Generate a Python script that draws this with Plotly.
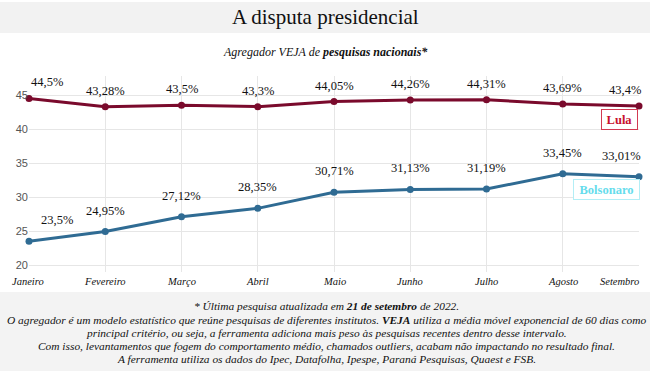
import plotly.graph_objects as go

months = ["Janeiro", "Fevereiro", "Março", "Abril", "Maio", "Junho", "Julho", "Agosto", "Setembro"]
lula = [44.5, 43.28, 43.5, 43.3, 44.05, 44.26, 44.31, 43.69, 43.4]
bolsonaro = [23.5, 24.95, 27.12, 28.35, 30.71, 31.13, 31.19, 33.45, 33.01]
y_ticks = [20, 25, 30, 35, 40, 45]

W, H = 650, 371
ML, MR, MT, MB = 29, 11, 76, 99
PW = W - ML - MR
PH = H - MT - MB

def px_x(px):
    return (px - ML) / PW

def px_y(py):
    return (H - MB - py) / PH

LULA_C = "#7a0a2c"
BOLS_C = "#2f6b93"
SERIF = "Liberation Serif"

fig = go.Figure()
fig.add_trace(go.Scatter(x=months, y=lula, mode="lines+markers",
                         line=dict(color=LULA_C, width=3), marker=dict(size=7, color=LULA_C),
                         cliponaxis=False, hoverinfo="skip"))
fig.add_trace(go.Scatter(x=months, y=bolsonaro, mode="lines+markers",
                         line=dict(color=BOLS_C, width=3), marker=dict(size=7, color=BOLS_C),
                         cliponaxis=False, hoverinfo="skip"))

def fmt(v):
    s = ("%.2f" % v).rstrip("0").rstrip(".")
    return s.replace(".", ",") + "%"

annotations = []
n = len(months)
for series, ys, first_shift in ((lula, 16, 0), (bolsonaro, 21, 10)):
    for i, v in enumerate(series):
        if i == 0:
            xa, xs = "left", first_shift
        elif i == n - 1:
            xa, xs = "right", 4
        else:
            xa, xs = "center", 0
        annotations.append(dict(x=months[i], y=v, xref="x", yref="y", text=fmt(v),
                                showarrow=False, xanchor=xa, yanchor="middle", xshift=xs, yshift=ys,
                                font=dict(family=SERIF, size=12.5, color="#111")))

# x tick labels (edge labels pulled inward as in the original)
for i, m in enumerate(months):
    if i == 0:
        xa, xs = "left", -19
    elif i == n - 1:
        xa, xs = "right", 2
    else:
        xa, xs = "center", 0
    annotations.append(dict(x=m, y=px_y(281), xref="x", yref="paper", text="<i>" + m + "</i>",
                            showarrow=False, xanchor=xa, yanchor="middle", xshift=xs,
                            font=dict(family=SERIF, size=10.5, color="#111")))

# title & subtitle
annotations.append(dict(x=px_x(325), y=px_y(17), xref="paper", yref="paper",
                        text="A disputa presidencial", showarrow=False,
                        xanchor="center", yanchor="middle",
                        font=dict(family=SERIF, size=21, color="#111")))
annotations.append(dict(x=px_x(325), y=px_y(52), xref="paper", yref="paper",
                        text="<i>Agregador VEJA de <b>pesquisas nacionais*</b></i>", showarrow=False,
                        xanchor="center", yanchor="middle",
                        font=dict(family=SERIF, size=12, color="#111")))

# legend boxes
annotations.append(dict(x=px_x(619), y=px_y(119), xref="paper", yref="paper",
                        text="<b>Lula</b>", showarrow=False, xanchor="center", yanchor="middle",
                        width=29, height=13, bordercolor="#d23a52", borderwidth=1, borderpad=3,
                        bgcolor="white", font=dict(family=SERIF, size=12.5, color="#c8102e")))
annotations.append(dict(x=px_x(606), y=px_y(189.5), xref="paper", yref="paper",
                        text="<b>Bolsonaro</b>", showarrow=False, xanchor="center", yanchor="middle",
                        width=59, height=13, bordercolor="#b3eef6", borderwidth=1, borderpad=3,
                        bgcolor="white", font=dict(family=SERIF, size=12.5, color="#66dcec")))

footer_lines = [
    "<i>* Última pesquisa atualizada em <b>21 de setembro</b> de 2022.</i>",
    "<i>O agregador é um modelo estatístico que reúne pesquisas de diferentes institutos. <b>VEJA</b> utiliza a média móvel exponencial de 60 dias como</i>",
    "<i>principal critério, ou seja, a ferramenta adiciona mais peso às pesquisas recentes dentro desse intervalo.</i>",
    "<i>Com isso, levantamentos que fogem do comportamento médio, chamados outliers, acabam não impactando no resultado final.</i>",
    "<i>A ferramenta utiliza os dados do Ipec, Datafolha, Ipespe, Paraná Pesquisas, Quaest e FSB.</i>",
]
footer_y = [306, 319.5, 333, 346, 359]
for line, yy in zip(footer_lines, footer_y):
    annotations.append(dict(x=px_x(326), y=px_y(yy), xref="paper", yref="paper",
                            text=line, showarrow=False, xanchor="center", yanchor="middle",
                            font=dict(family=SERIF, size=11.4, color="#111")))

shapes = [
    dict(type="rect", xref="paper", yref="paper", x0=px_x(0), x1=px_x(650), y0=px_y(33), y1=px_y(2),
         fillcolor="#f2f2f2", line=dict(width=0), layer="below"),
    dict(type="rect", xref="paper", yref="paper", x0=px_x(0), x1=px_x(650), y0=px_y(371), y1=px_y(292),
         fillcolor="#f3f3f3", line=dict(width=0), layer="below"),
]

fig.update_layout(
    width=W, height=H, margin=dict(l=ML, r=MR, t=MT, b=MB, autoexpand=False),
    paper_bgcolor="white", plot_bgcolor="white", showlegend=False,
    annotations=annotations, shapes=shapes,
    xaxis=dict(type="category", range=[0, n - 1], showgrid=True, gridcolor="#e6e6e6", gridwidth=1,
               zeroline=False, showline=False, ticks="", automargin=False, showticklabels=False),
    yaxis=dict(range=[19, 47.8], tickvals=y_ticks, showgrid=True, gridcolor="#e6e6e6", gridwidth=1,
               zeroline=False, showline=False, ticks="", automargin=False,
               tickfont=dict(family="Liberation Sans", size=11, color="#555")),
)
fig.write_html("out.html", config={"displayModeBar": False},
               post_script="document.body.style.margin='0';document.body.style.padding='0';")
